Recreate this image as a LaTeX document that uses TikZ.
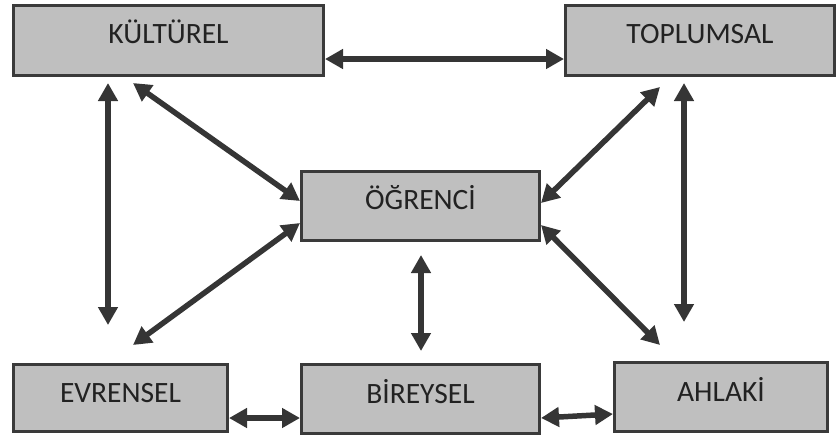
\documentclass[tikz,border=0pt]{standalone}
\usepackage{fontspec}
\setmainfont{Carlito}
\usetikzlibrary{arrows.meta}
\definecolor{boxfill}{HTML}{BFBFBF}
\definecolor{boxline}{HTML}{3A3A3A}
\definecolor{arrowc}{HTML}{353535}
\definecolor{txt}{HTML}{222222}
\tikzset{
  box/.style={draw=boxline, line width=3pt, fill=boxfill, rectangle,
    font=\fontsize{29.5}{31}\selectfont, text=txt, text height=19pt, text depth=13pt, inner sep=0pt},
  lowbox/.style={box, text depth=10pt},
  link/.style={draw=arrowc, line width=5.5pt,
    {Triangle[length=18pt,width=19pt]}-{Triangle[length=18pt,width=19pt]}}
}
\begin{document}
\begin{tikzpicture}[x=1pt,y=-1pt]
\useasboundingbox (0,0) rectangle (838,437);
\node[box, minimum width=310pt, minimum height=70pt] (K) at (168.5,40.5) {KÜLTÜREL};
\node[box, minimum width=269pt, minimum height=70pt] (T) at (700,40.5) {TOPLUMSAL};
\node[box, minimum width=238pt, minimum height=69pt] (O) at (420.5,206) {ÖĞRENCİ};
\node[lowbox, minimum width=214pt, minimum height=67pt] (E) at (120.5,398) {EVRENSEL};
\node[lowbox, minimum width=238pt, minimum height=69pt] (B) at (420.5,399) {BİREYSEL};
\node[lowbox, minimum width=213pt, minimum height=69pt] (A) at (721,397) {AHLAKİ};
\coordinate (lvTop) at (108,83);
\coordinate (lvBot) at (108,325);
\coordinate (rvTop) at (684,83);
\coordinate (rvBot) at (684,322);
\coordinate (kd) at (133,83);
\coordinate (td) at (660,87);
\coordinate (ed) at (133,345);
\coordinate (ad) at (660,345);
\coordinate (obTop) at (421,255);
\coordinate (obBot) at (421,351);
\draw[link] ([yshift=-18.5pt]K.east) -- ([yshift=-18.5pt]T.west);
\draw[link] (lvTop) -- (lvBot);
\draw[link] (rvTop) -- (rvBot);
\draw[link] (kd) -- ([yshift=5pt]O.west);
\draw[link] (td) -- ([yshift=3pt]O.east);
\draw[link] ([yshift=-17pt]O.west) -- (ed);
\draw[link] ([yshift=-19pt]O.east) -- (ad);
\draw[link] (obTop) -- (obBot);
\draw[link] ([yshift=-20pt]E.east) -- ([yshift=-19pt]B.west);
\draw[link] ([yshift=-19pt]B.east) -- ([yshift=-17pt]A.west);
\end{tikzpicture}
\end{document}
